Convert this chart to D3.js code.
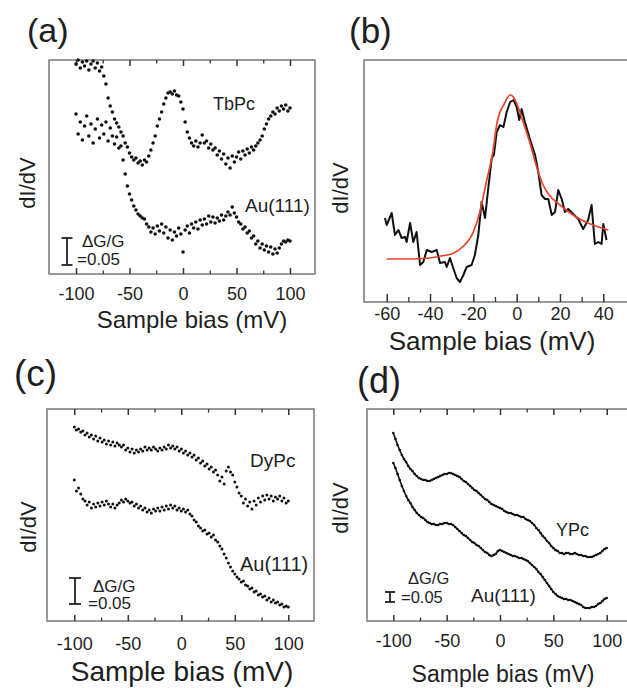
<!DOCTYPE html>
<html>
<head>
<meta charset="utf-8">
<script src="https://cdn.jsdelivr.net/npm/d3@7"></script>
<style>
body { margin: 0; background: #fff; }
svg { font-family: "Liberation Sans", Arial, sans-serif; }
</style>
</head>
<body>
<svg id="fig" width="627" height="688"></svg>
<script>
// bias grid (mV) of the dot spectra, 2 mV steps
var biasGrid = d3.range(-100, 101, 2);

// (a) TbPc and bare Au(111), dI/dV in arb. units
var tbpcA = [210,214,206,212,208,213,204,210,213,206,
             211,203,207,198,190,176,168,162,155,151,
             147,142,138,131,127,121,117,114,116,111,
             113,109,114,112,118,124,131,138,148,155,
             162,170,176,181,182,180,183,179,178,172,
             165,152,142,136,131,128,133,127,131,139,
             131,133,126,130,124,126,119,123,115,120,
             110,116,106,118,112,117,122,115,123,119,
             125,121,127,124,128,131,134,138,145,150,
             155,158,162,160,166,163,168,165,169,163,166];
var auA = [160,140,152,134,148,158,138,150,131,145,
           155,136,149,140,152,133,146,138,130,137,
           126,128,114,100,88,80,74,68,64,60,
           58,56,55,50,47,42,46,40,48,43,
           50,41,47,36,44,34,42,38,46,40,
           22,44,48,41,50,46,52,45,54,49,
           55,50,58,52,57,51,56,53,59,54,
           58,62,59,67,61,57,52,50,45,47,
           41,43,36,38,30,33,26,30,24,28,
           22,27,20,25,21,26,30,33,32,34,33];

// (b) measured spectrum and fit
var biasB = [-60.8,-60,-57.7,-56.2,-54.6,-53.1,-51.5,-50.8,-49.2,-47.7,-46.2,-44.6,-43.1,-41.5,-39.2,
             -36.9,-35.4,-33.1,-32.3,-30.8,-29.3,-27.7,-26.2,-24.6,-23.1,-20.8,-19.3,-17.7,-16.2,-14.6,
             -13.1,-11.5,-10.5,-9.2,-7.7,-6.1,-4.6,-3,-1.4,0,1.2,2.3,3.8,6.1,8.5,10,11.5,13.1,14.6,
             16.2,17.7,19.2,20.8,22.3,23.8,26.1,28.4,30.7,33,34.6,36.1,37.7,39.2,40,41.5];
var didvB = [84,77,89,67,72,64,65,60,79,60,70,37,40,52,50,
             52,39,40,35,44,34,24,20,27,35,37,47,67,100,84,
             114,144,147,170,177,175,190,200,202,195,182,193,180,163,147,130,107,103,103,
             87,90,112,103,90,93,88,83,73,82,97,58,60,58,78,62];
var fitBiasB = [-60,-50,-40,-35,-30,-25,-20,-17,-14,-11,-9,-6,-3,-1.5,1,3,6,9,12,15,20,26,34,42.3];
var fitB = [43,43,44,46,48,55,70,90,120,150,180,197,207,205,193,180,160,137,118,107,97,87,78,72];

// (c) DyPc and Au(111)
var dypcC = [194,191,192,189,190,186,188,184,186,182,
             185,180,183,179,181,177,180,176,179,175,
             178,176,174,176,171,173,169,172,168,171,
             169,172,170,174,171,173,171,174,172,170,
             173,171,174,172,176,173,175,172,174,170,
             172,168,170,166,168,164,166,161,163,158,
             160,155,157,152,154,149,151,146,140,144,
             137,150,154,149,146,139,134,128,125,118,
             122,115,119,112,120,116,123,119,125,121,
             126,122,125,120,124,122,125,120,123,118,120];
var auC = [141,130,133,127,122,120,116,119,113,117,
           114,118,115,119,116,120,117,114,117,113,
           116,118,121,119,122,120,118,119,115,117,
           113,115,111,113,109,111,108,112,110,113,
           110,114,111,115,112,116,113,115,111,113,
           110,112,109,111,107,105,101,99,95,93,
           90,91,87,88,84,86,81,79,75,72,
           67,63,58,54,50,47,44,42,39,40,
           36,35,32,33,29,30,26,27,24,25,
           21,23,19,21,18,19,16,17,14,15,14];

// (d) YPc and Au(111)
var ypcD = [188,182,176,171,166,162,159,155,152,150,
            147,145,143,142,141,141,140,140,141,142,
            143,144,145,146,147,147,148,148,147,146,
            145,144,142,140,139,137,135,133,131,130,
            128,126,124,122,121,119,117,116,115,114,
            113,112,110,109,108,108,107,106,106,105,
            104,104,102,101,100,98,96,93,91,88,
            85,83,80,78,75,73,71,70,68,68,
            67,68,68,67,67,68,67,66,66,65,
            65,64,64,64,65,66,67,68,70,72,73];
var auD = [158,153,147,141,135,130,125,121,118,114,
           111,108,106,104,103,101,99,98,97,97,
           96,96,97,97,98,98,97,97,96,94,
           92,90,88,86,85,83,81,79,78,76,
           75,73,71,69,68,66,65,66,67,70,
           71,70,69,68,67,66,65,65,64,63,
           63,62,61,60,58,56,54,52,49,47,
           44,41,38,35,32,29,27,25,24,23,
           22,22,21,21,20,19,18,17,16,14,
           13,13,13,14,14,15,17,18,20,22,23];

// tick values
var majorTicks = [-100, -50, 0, 50, 100];
var minorTicks = [-75, -25, 25, 75];
var majorTicksB = [-60, -40, -20, 0, 20, 40];
var minorTicksB = [-50, -30, -10, 10, 30];

// scale bar length of dG/G = 0.05 in the panel units
var barA = 27, barC = 26, barD = 10;

var fig = d3.select("#fig");
var ink = "#1e1e1e";

function panel(p) {
    var g = fig.append("g");
    var x = d3.scaleLinear().domain(p.xd).range(p.xr);
    var y = d3.scaleLinear().domain([0, p.bottom - p.top]).range([p.bottom, p.top]);

    g.append("rect")
        .attr("x", p.left).attr("y", p.top)
        .attr("width", p.right - p.left).attr("height", p.bottom - p.top)
        .attr("fill", "none").attr("stroke", "#6e6e6e").attr("stroke-width", 1.4);

    var bot = g.append("g").attr("transform", "translate(0," + p.bottom + ")")
        .call(d3.axisBottom(x).tickValues(p.major).tickSizeInner(-p.tk).tickSizeOuter(0)
            .tickPadding(0).tickFormat(function(d){ return String(d); }));
    bot.select(".domain").remove();
    bot.attr("font-size", null).attr("font-family", null).style("color", "#333");
    bot.selectAll("line").attr("stroke-width", 1.5);
    bot.selectAll("text").attr("y", p.labY - p.bottom).attr("dy", null)
        .style("font-size", p.tkFont + "px").attr("fill", ink);

    var bm = g.append("g").attr("transform", "translate(0," + p.bottom + ")")
        .call(d3.axisBottom(x).tickValues(p.minor).tickSizeInner(-p.tm).tickSizeOuter(0).tickFormat(""));
    bm.select(".domain").remove();
    bm.style("color", "#333").selectAll("line").attr("stroke-width", 1.3);

    if (p.topTicks) {
        var tp = g.append("g").attr("transform", "translate(0," + p.top + ")")
            .call(d3.axisTop(x).tickValues(p.major).tickSizeInner(-p.tk).tickSizeOuter(0).tickFormat(""));
        tp.select(".domain").remove();
        tp.style("color", "#333").selectAll("line").attr("stroke-width", 1.5);
        var tm = g.append("g").attr("transform", "translate(0," + p.top + ")")
            .call(d3.axisTop(x).tickValues(p.minor).tickSizeInner(-p.tm).tickSizeOuter(0).tickFormat(""));
        tm.select(".domain").remove();
        tm.style("color", "#333").selectAll("line").attr("stroke-width", 1.3);
    }

    // axis titles and panel letter
    g.append("text").attr("x", p.titleX).attr("y", p.titleY).attr("text-anchor", "middle")
        .style("font-size", p.titleFont + "px").attr("fill", ink).text("Sample bias (mV)");
    g.append("text").attr("transform", "translate(" + p.ylabX + "," + p.ylabY + ") rotate(-90)")
        .attr("text-anchor", "middle").style("font-size", "22px").attr("fill", ink).text("dI/dV");
    g.append("text").attr("x", p.letterX).attr("y", p.letterY)
        .style("font-size", p.letterFont + "px").attr("fill", ink).text(p.letter);

    return { g: g, x: x, y: y };
}

function dots(pn, xs, ys, r) {
    pn.g.append("g").selectAll("circle")
        .data(ys)
        .enter().append("circle")
        .attr("cx", function(d, i){ return pn.x(xs[i]); })
        .attr("cy", function(d){ return pn.y(d); })
        .attr("r", r)
        .attr("fill", "#111");
}

function label(pn, txt, x, y, size) {
    pn.g.append("text").attr("x", x).attr("y", y).style("font-size", size + "px")
        .attr("fill", ink).text(txt);
}

function scaleBar(pn, len, cx, yBottom, capW, t1x, t1y, t2x, t2y, size) {
    var h = pn.y(0) - pn.y(len);
    var b = pn.g.append("g").attr("stroke", "#222").attr("stroke-width", 1.8);
    b.append("line").attr("x1", cx).attr("x2", cx).attr("y1", yBottom - h).attr("y2", yBottom);
    b.append("line").attr("x1", cx - capW / 2).attr("x2", cx + capW / 2).attr("y1", yBottom - h).attr("y2", yBottom - h);
    b.append("line").attr("x1", cx - capW / 2).attr("x2", cx + capW / 2).attr("y1", yBottom).attr("y2", yBottom);
    label(pn, "\u0394G/G", t1x, t1y, size);
    label(pn, "=0.05", t2x, t2y, size);
}

// ---------- (a) ----------
var pa = panel({
    left: 49, right: 315, top: 60, bottom: 274,
    xd: [-100, 100], xr: [76, 290],
    major: majorTicks, minor: minorTicks, tk: 6, tm: 3.5, topTicks: true,
    labY: 300, tkFont: 18,
    titleX: 192, titleY: 328, titleFont: 24,
    ylabX: 35, ylabY: 183,
    letter: "(a)", letterX: 27, letterY: 42, letterFont: 34
});
dots(pa, biasGrid, tbpcA, 1.8);
dots(pa, biasGrid, auA, 1.8);
label(pa, "TbPc", 213, 110, 18);
label(pa, "Au(111)", 245, 212, 19);
scaleBar(pa, barA, 67, 265, 11, 82, 247, 77, 265, 17);

// ---------- (b) ----------
var pb = panel({
    left: 364, right: 632, top: 60, bottom: 302,
    xd: [-60, 40], xr: [386.7, 603.3],
    major: majorTicksB, minor: minorTicksB, tk: 8, tm: 5, topTicks: false,
    labY: 320, tkFont: 18,
    titleX: 492, titleY: 350, titleFont: 26,
    ylabX: 348, ylabY: 188,
    letter: "(b)", letterX: 349, letterY: 43, letterFont: 35
});
var lineB = d3.line()
    .x(function(d, i){ return pb.x(biasB[i]); })
    .y(function(d){ return pb.y(d); });
pb.g.append("path").attr("d", lineB(didvB))
    .attr("fill", "none").attr("stroke", "#111").attr("stroke-width", 2).attr("stroke-linejoin", "round");
var fitLine = d3.line()
    .x(function(d, i){ return pb.x(fitBiasB[i]); })
    .y(function(d){ return pb.y(d); })
    .curve(d3.curveMonotoneX);
pb.g.append("path").attr("d", fitLine(fitB))
    .attr("fill", "none").attr("stroke", "#e8442c").attr("stroke-width", 1.7);

// ---------- (c) ----------
var pc = panel({
    left: 47, right: 314, top: 409, bottom: 621,
    xd: [-100, 100], xr: [74.3, 288.3],
    major: majorTicks, minor: minorTicks, tk: 6, tm: 3.5, topTicks: true,
    labY: 650, tkFont: 18,
    titleX: 182, titleY: 681, titleFont: 28,
    ylabX: 36, ylabY: 527,
    letter: "(c)", letterX: 14, letterY: 386, letterFont: 37
});
dots(pc, biasGrid, dypcC, 1.5);
dots(pc, biasGrid, auC, 1.5);
label(pc, "DyPc", 250, 467, 19);
label(pc, "Au(111)", 240, 571, 20);
scaleBar(pc, barC, 75, 604, 12, 93, 592, 88, 609, 17);

// ---------- (d) ----------
var pd = panel({
    left: 367, right: 632, top: 409, bottom: 621,
    xd: [-100, 100], xr: [393.3, 606.7],
    major: majorTicks, minor: minorTicks, tk: 6, tm: 3.5, topTicks: true,
    labY: 647, tkFont: 18,
    titleX: 503, titleY: 682, titleFont: 23,
    ylabX: 348, ylabY: 508,
    letter: "(d)", letterX: 357, letterY: 393, letterFont: 36
});
[ypcD, auD].forEach(function(s) {
    var ln = d3.line()
        .x(function(d, i){ return pd.x(biasGrid[i]); })
        .y(function(d){ return pd.y(d); });
    pd.g.append("path").attr("d", ln(s)).attr("fill", "none")
        .attr("stroke", "#111").attr("stroke-width", 1.6);
    dots(pd, biasGrid, s, 1.3);
});
label(pd, "YPc", 556, 536, 18);
label(pd, "Au(111)", 471, 602, 19);
scaleBar(pd, barD, 390, 602, 10, 408, 584, 401, 603, 16.5);
</script>
</body>
</html>
